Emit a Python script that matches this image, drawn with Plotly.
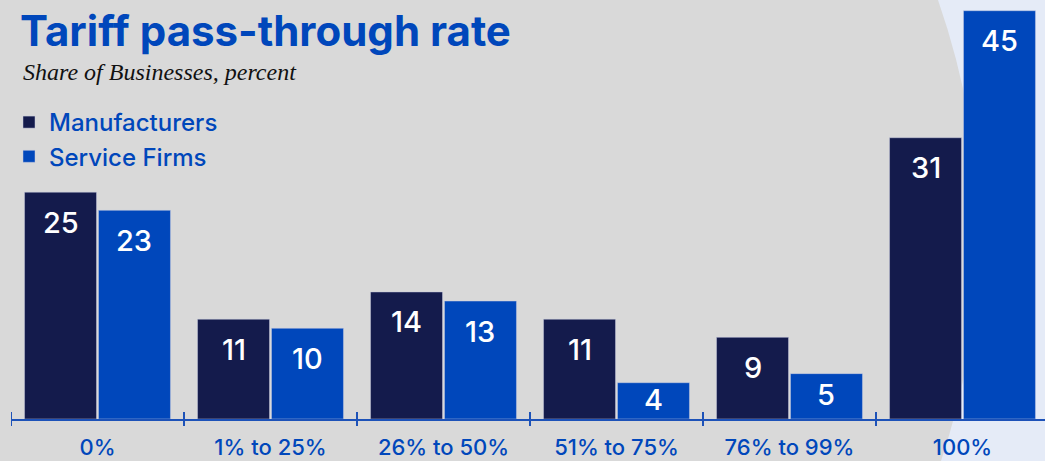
import plotly.graph_objects as go

categories = ["0%", "1% to 25%", "26% to 50%", "51% to 75%", "76% to 99%", "100%"]
manufacturers = [25, 11, 14, 11, 9, 31]
service_firms = [23, 10, 13, 4, 5, 45]
series_names = ["Manufacturers", "Service Firms"]

W, H = 1045, 461
ML, MT, MB = 11, 0, 42
PLOT_W = W - ML
PLOT_H = H - MT - MB
UNIT_PX = 173.0            # pixels per category
Y_TOP = 46.18

NAVY = "#141b4c"
BLUE = "#0047bb"
AXIS = "#1d52b8"
BG = "#d9d9d9"
LIGHT = "#e5ebf7"
FONT = "Inter"

def px(x):
    return (x - ML) / PLOT_W

def py(y):
    return 1 - (y - MT) / PLOT_H

x_idx = list(range(len(categories)))
x_max = -0.5 + PLOT_W / UNIT_PX

fig = go.Figure()
for name, vals, col in [(series_names[0], manufacturers, NAVY), (series_names[1], service_firms, BLUE)]:
    fig.add_trace(go.Bar(
        x=x_idx, y=vals, name=name, legendgroup=name,
        marker=dict(color=col, line=dict(width=0.6, color="rgba(200,205,225,0.8)")),
        hoverinfo="skip",
    ))

# value labels
px_per_unit = PLOT_H / Y_TOP
for k, vals in enumerate([manufacturers, service_firms]):
    for i, v in enumerate(vals):
        h = v * px_per_unit
        shift = -min(30, h * 0.45)
        fig.add_annotation(
            x=i + (-0.2135 if k == 0 else 0.2135), y=v, xref="x", yref="y",
            text=str(v), showarrow=False, yshift=shift, yanchor="middle",
            font=dict(family=FONT, size=29, color="white", weight=500),
        )

# crossing tick marks at category boundaries
for b in [i - 0.5 for i in range(len(categories) + 1)]:
    fig.add_shape(type="line", xref="x", yref="paper", x0=b, x1=b,
                  ysizemode="pixel", yanchor=0, y0=-7, y1=7,
                  line=dict(color=AXIS, width=2))

# light background region at right
path = "M {} {} Q {} {} {} {} L {} {} L {} {} Z".format(
    px(938), py(0), px(1018), py(230), px(941), py(461),
    px(1045), py(461), px(1045), py(0))
fig.add_shape(type="path", xref="paper", yref="paper", path=path,
              fillcolor=LIGHT, line=dict(width=0), layer="below")

fig.add_annotation(xref="paper", yref="paper", x=px(21), y=py(72),
                   xanchor="left", yanchor="middle", showarrow=False,
                   text="<i>Share of Businesses, percent</i>",
                   font=dict(family="Liberation Serif", size=24, color="#111111"))

fig.update_layout(
    width=W, height=H,
    margin=dict(l=ML, r=0, t=MT, b=MB, pad=0, autoexpand=False),
    paper_bgcolor=BG, plot_bgcolor="rgba(0,0,0,0)",
    title=dict(text="<b>Tariff pass-through rate</b>", xref="container", yref="container",
               x=20 / W, xanchor="left", y=1 - 17 / H, yanchor="top",
               font=dict(family=FONT, size=42, color=BLUE)),
    barmode="group", bargap=0.145, bargroupgap=0.027,
    showlegend=True,
    legend=dict(x=px(9), y=py(100), xanchor="left", yanchor="top",
                bgcolor="rgba(0,0,0,0)", tracegroupgap=5, traceorder="normal",
                font=dict(family=FONT, size=24, color=BLUE, weight=500)),
    xaxis=dict(range=[-0.5, x_max], tickmode="array", tickvals=x_idx, ticktext=categories,
               showgrid=False, zeroline=False, showline=True, linecolor=AXIS, linewidth=2,
               ticks="", ticklabelstandoff=8, automargin=False,
               tickfont=dict(family=FONT, size=22, color=BLUE, weight=500), fixedrange=True),
    yaxis=dict(range=[0, Y_TOP], visible=False, fixedrange=True, automargin=False),
)

fig.write_html("out.html", config={"displayModeBar": False},
               post_script="document.body.style.margin='0';")
